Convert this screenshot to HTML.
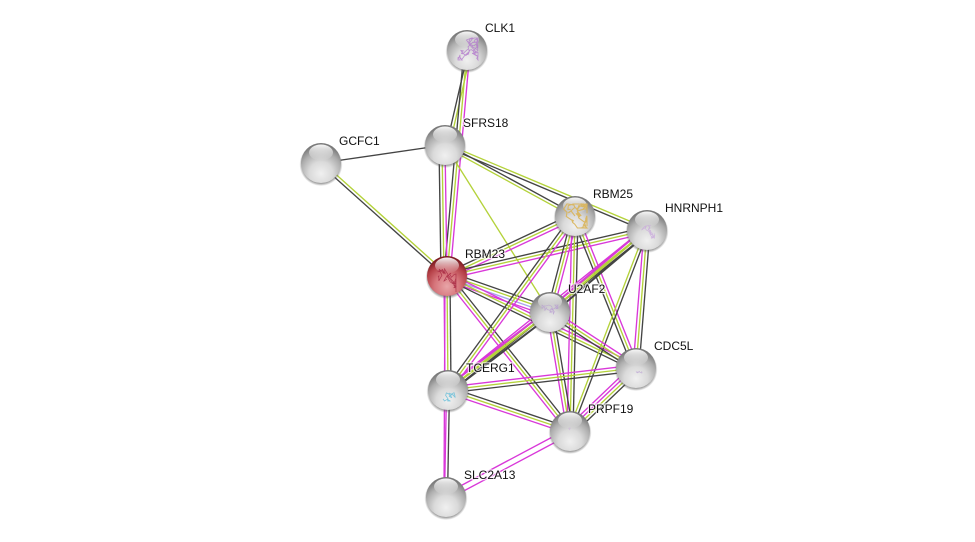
<!DOCTYPE html>
<html><head><meta charset="utf-8"><style>
html,body{margin:0;padding:0;background:#fff;width:975px;height:542px;overflow:hidden}
svg{display:block}
text{font:12px "Liberation Sans",sans-serif;fill:#111;stroke:#fff;stroke-opacity:.7;stroke-width:2.5px;paint-order:stroke}
</style></head><body>
<svg id="s" width="975" height="542" viewBox="0 0 975 542" xmlns="http://www.w3.org/2000/svg">
<defs>
<radialGradient id="g" cx="50%" cy="76%" r="70%"><stop offset="0" stop-color="#f0f0f0"/><stop offset=".42" stop-color="#dadada"/><stop offset=".75" stop-color="#adadad"/><stop offset="1" stop-color="#7a7a7a"/></radialGradient>
<radialGradient id="r" cx="50%" cy="76%" r="70%"><stop offset="0" stop-color="#e8a5a8"/><stop offset=".45" stop-color="#d6757b"/><stop offset=".78" stop-color="#b54047"/><stop offset="1" stop-color="#7e1d22"/></radialGradient>
<linearGradient id="h" x1="0" y1="0" x2="0" y2="1"><stop offset="0" stop-color="#fff" stop-opacity=".95"/><stop offset="1" stop-color="#fff" stop-opacity="0"/></linearGradient>
<radialGradient id="sh"><stop offset=".82" stop-color="#555" stop-opacity=".8"/><stop offset="1" stop-color="#555" stop-opacity="0"/></radialGradient>
</defs>
<g id="e" fill="none" stroke-width="1.35"></g>
<g id="n"></g>
<g id="p" fill="none"></g>
<text x="485" y="32">CLK1</text>
<text x="463" y="127">SFRS18</text>
<text x="339" y="145">GCFC1</text>
<text x="465" y="258">RBM23</text>
<text x="593" y="198">RBM25</text>
<text x="665" y="212">HNRNPH1</text>
<text x="568" y="293">U2AF2</text>
<text x="654" y="350">CDC5L</text>
<text x="466" y="372">TCERG1</text>
<text x="588" y="413">PRPF19</text>
<text x="464" y="479">SLC2A13</text>
</svg>
<script>
var P={C:[467,50],S:[445,145],G:[321,163],R:[447,276],B:[575,216],H:[647,230],U:[550,312],D:[636,368],T:[448,390],F:[570,431],L:[446,497]};
var col={k:'#444',y:'#b4d23a',m:'#d938d9',b:'#a9a4ee'};
var E=[['C','S','yk',-3],['C','R','myk',0],['S','G','k'],['G','R','yk'],['S','R','myk',3],['S','B','ky'],['S','H','yk'],['S','U','y'],
['R','B','kym'],['R','H','kym'],['R','U','kybm'],['R','D','myk'],['R','F','kym'],['R','T','kym'],
['B','U','myk'],['B','D','myk'],['B','F','kym'],['B','T','myk'],
['H','T','kym'],['H','D','kym'],['H','F','ky'],
['U','D','myk'],['U','F','kym'],
['D','T','kym'],['D','F','kymm'],['T','F','kym'],['T','L','km'],['R','L','m',2],['F','L','mm']];
var NS='http://www.w3.org/2000/svg',eg=document.getElementById('e'),ng=document.getElementById('n'),pg=document.getElementById('p');
function mk(t,a,p){var o=document.createElementNS(NS,t);for(var k in a)o.setAttribute(k,a[k]);p.appendChild(o);return o}
function edge(a,b,s,off,sw){var dx=b[0]-a[0],dy=b[1]-a[1],l=Math.hypot(dx,dy),nx=-dy/l,ny=dx/l,sp=s=='mm'?6:3;
for(var i=0;i<s.length;i++){var o=(i-(s.length-1)/2)*sp+(off||0);var q={x1:a[0]+nx*o,y1:a[1]+ny*o,x2:b[0]+nx*o,y2:b[1]+ny*o,stroke:col[s[i]]};if(sw)q['stroke-width']=sw;mk('line',q,eg)}}
E.forEach(function(e){edge(P[e[0]],P[e[1]],e[2],e[3])});
/* thick bundle through U2AF2 */
edge(P.H,P.U,'kym',0,2);edge(P.U,P.T,'kym',0,2);
for(var k in P){var p=P[k],x=p[0],y=p[1];
mk('circle',{cx:x,cy:y+1.5,r:21.5,fill:'url(#sh)'},ng);
mk('circle',{cx:x,cy:y,r:20,fill:k=='R'?'url(#r)':'url(#g)'},ng);
mk('ellipse',{cx:x,cy:y-10.5,rx:12,ry:8,fill:'url(#h)'},ng);}
var seed=7;function rnd(){seed=(seed*16807)%2147483647;return seed/2147483647}
function scrib(cx,cy,w,h,n,c,sw,op){var x=cx,y=cy,d='M'+x.toFixed(1)+' '+y.toFixed(1);
for(var i=0;i<n;i++){x+=(rnd()-.5)*w*.5;y+=(rnd()-.5)*h*.5;x=Math.max(cx-w/2,Math.min(cx+w/2,x));y=Math.max(cy-h/2,Math.min(cy+h/2,y));d+='L'+x.toFixed(1)+' '+y.toFixed(1)}
mk('path',{d:d,stroke:c,'stroke-width':sw,opacity:op},pg)}
scrib(468,49,20,22,70,'#b277cc',.8,.8);
scrib(447,279,18,26,50,'#a5233f',.7,.8);
scrib(575,216,24,24,80,'#d9b458',1.1,.9);
scrib(648,232,13,13,45,'#c8a6dc',.6,.8);
scrib(550,313,16,16,35,'#b79ad2',.6,.8);
scrib(637,372,10,5,10,'#b79ad2',.6,.8);
scrib(449,393,12,16,22,'#5cbcd8',.8,.8);
scrib(569,430,10,5,4,'#c9a6dc',.6,.6);
</script>
</body></html>
